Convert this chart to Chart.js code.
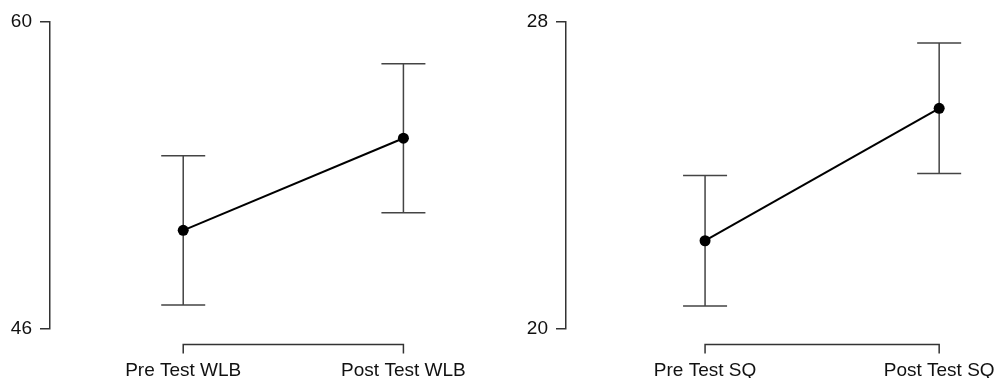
<!DOCTYPE html>
<html>
<head>
<meta charset="utf-8">
<script src="https://cdn.jsdelivr.net/npm/chart.js@4/dist/chart.umd.min.js"></script>
<style>
  body { margin: 0; background: #fff; }
  .wrap { position: absolute; top: 0; height: 378px; }
</style>
</head>
<body>
<div class="wrap" style="left:0;width:497px"><canvas id="wlbChart" width="497" height="378"></canvas></div>
<div class="wrap" style="left:497px;width:498px"><canvas id="sqChart" width="498" height="378"></canvas></div>
<script>
// work-life balance
const wlbLabels = ["Pre Test WLB", "Post Test WLB"];
const wlbMeans = [50.5, 54.7];
const wlbLow = [47.1, 51.3];
const wlbHigh = [53.9, 58.1];
const wlbTicks = [46, 60];

// SQ
const sqLabels = ["Pre Test SQ", "Post Test SQ"];
const sqMeans = [22.3, 25.75];
const sqLow = [20.6, 24.05];
const sqHigh = [24.0, 27.45];
const sqTicks = [20, 28];

const font = { family: "'Liberation Sans', Arial, sans-serif", size: 19 };
const ink = "#111";
const axisColor = "#333";

// error bars + the bracket style x axis
const errorBars = {
  id: "errorBars",
  beforeDatasetsDraw(chart, args, opts) {
    const ctx = chart.ctx;
    const x = chart.scales.x, y = chart.scales.y;
    ctx.save();
    ctx.strokeStyle = "#444";
    ctx.lineWidth = 1.5;
    opts.low.forEach((lo, i) => {
      const px = x.getPixelForValue(i);
      const top = y.getPixelForValue(opts.high[i]);
      const bot = y.getPixelForValue(lo);
      ctx.beginPath();
      ctx.moveTo(px, top); ctx.lineTo(px, bot);
      ctx.moveTo(px - 22, top); ctx.lineTo(px + 22, top);
      ctx.moveTo(px - 22, bot); ctx.lineTo(px + 22, bot);
      ctx.stroke();
    });
    const x0 = x.getPixelForValue(0);
    const x1 = x.getPixelForValue(opts.low.length - 1);
    const by = chart.chartArea.bottom + 15.5;
    ctx.strokeStyle = axisColor;
    ctx.beginPath();
    ctx.moveTo(x0, by + 9); ctx.lineTo(x0, by);
    ctx.lineTo(x1, by); ctx.lineTo(x1, by + 9);
    ctx.stroke();
    ctx.restore();
  }
};

const makeChart = (id, labels, means, low, high, ticks, yWidth, xMin, xMax) => {
  const ctx = document.getElementById(id).getContext("2d");
  return new Chart(ctx, {
    type: "line",
    data: {
      datasets: [
        {
          data: means.map((m, i) => ({ x: i, y: m })),
          borderColor: "#000",
          borderWidth: 2,
          backgroundColor: "#000",
          pointRadius: 5.5,
          pointHoverRadius: 5.5,
          pointBackgroundColor: "#000",
          pointBorderWidth: 0,
        },
      ],
    },
    options: {
      responsive: false,
      animation: false,
      devicePixelRatio: 1,
      layout: { padding: { top: 22, right: 0, bottom: 0, left: 0 } },
      plugins: {
        legend: { display: false },
        tooltip: { enabled: false },
        errorBars: { low: low, high: high },
      },
      scales: {
        x: {
          type: "linear",
          min: xMin,
          max: xMax,
          grid: { display: false, drawTicks: false },
          border: { display: false },
          afterBuildTicks: (s) => { s.ticks = labels.map((l, i) => ({ value: i })); },
          afterFit: (s) => {
            s.height = 49;
            s.paddingLeft = 0;
            s.paddingRight = 0;
          },
          ticks: {
            padding: 30,
            maxRotation: 0,
            autoSkip: false,
            color: ink,
            font: font,
            callback: (v) => labels[v],
          },
        },
        y: {
          min: ticks[0],
          max: ticks[1],
          afterBuildTicks: (s) => { s.ticks = ticks.map((v) => ({ value: v })); },
          afterFit: (s) => {
            s.width = yWidth;
            s.paddingTop = 0;
            s.paddingBottom = 0;
          },
          grid: { drawOnChartArea: false, tickLength: 10, color: axisColor, lineWidth: 1.5 },
          border: { display: true, color: axisColor, width: 1.5 },
          ticks: { padding: 8, color: ink, font: font },
        },
      },
    },
    plugins: [errorBars],
  });
};

makeChart("wlbChart", wlbLabels, wlbMeans, wlbLow, wlbHigh, wlbTicks, 50, -0.605, 1.40);
makeChart("sqChart", sqLabels, sqMeans, sqLow, sqHigh, sqTicks, 69, -0.594, 1.215);
</script>
</body>
</html>
